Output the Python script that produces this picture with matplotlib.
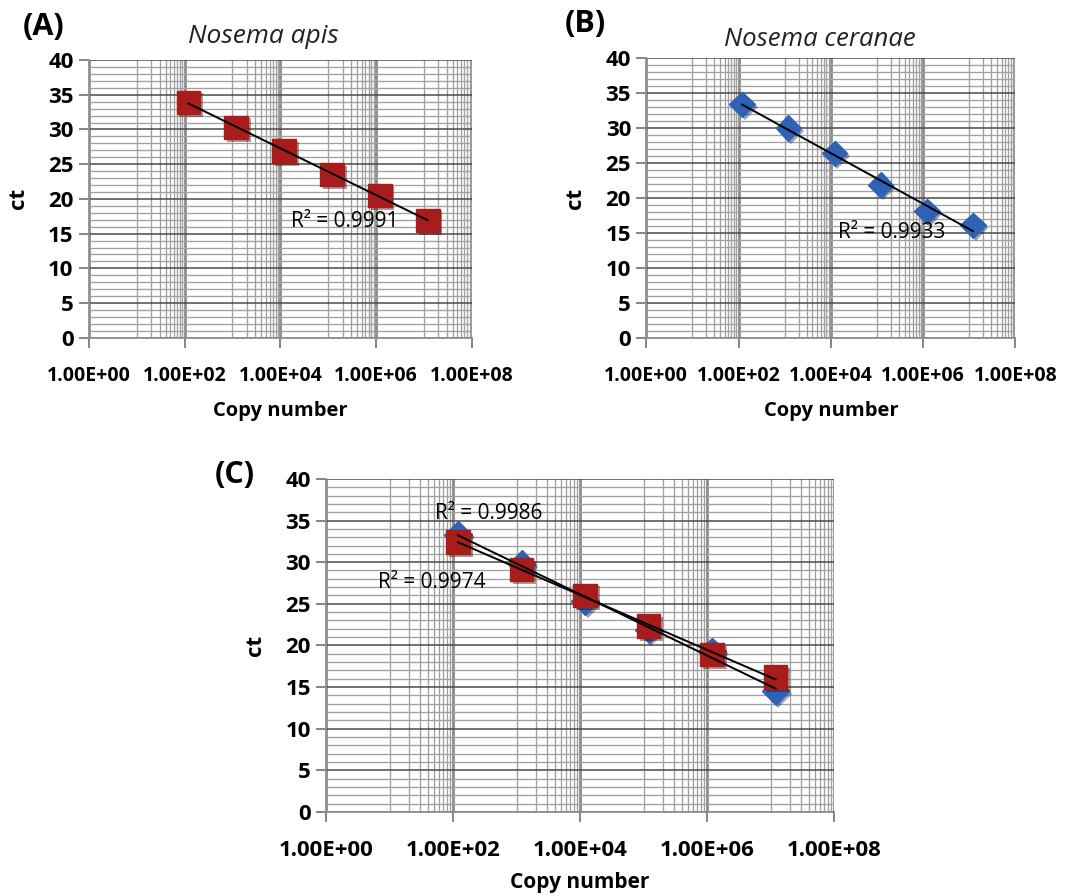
import numpy as np
import matplotlib
matplotlib.use("Agg")
import matplotlib.pyplot as plt
import matplotlib.patheffects as pe
from matplotlib.ticker import FixedLocator, FuncFormatter, NullFormatter

plt.rcParams['font.family'] = ['Open Sans', 'DejaVu Sans']
plt.rcParams['font.weight'] = 'bold'

# copy numbers (same dilution series for every panel)
copies = [1.2e2, 1.2e3, 1.2e4, 1.2e5, 1.2e6, 1.2e7]

# (A) Nosema apis
ct_apis = [33.9, 30.3, 26.9, 23.5, 20.5, 16.9]
# (B) Nosema ceranae
ct_ceranae = [33.4, 30.0, 26.4, 21.9, 18.1, 16.1]
# (C) mixed sample, both targets
ct_mix_ceranae = [33.3, 29.8, 25.3, 21.9, 19.3, 14.5]
ct_mix_apis = [32.4, 29.1, 26.0, 22.3, 18.9, 16.2]

RED = '#A81C1C'
BLUE = '#2E62B4'

shadow = [pe.SimplePatchShadow(offset=(2, -2), alpha=0.4), pe.Normal()]


def sci_label(v, pos):
    e = int(round(np.log10(v)))
    return '1.00E+%02d' % e


def style_axes(ax, xsize, ysize, labsize):
    ax.set_xscale('log')
    ax.set_xlim(1, 1e8)
    ax.set_ylim(0, 40)
    ax.xaxis.set_major_locator(FixedLocator([1e0, 1e2, 1e4, 1e6, 1e8]))
    ax.xaxis.set_major_formatter(FuncFormatter(sci_label))
    minor_x = [10 ** (2 * m + 1) * n for m in range(4) for n in range(1, 10)]
    ax.xaxis.set_minor_locator(FixedLocator(minor_x))
    ax.xaxis.set_minor_formatter(NullFormatter())
    ax.yaxis.set_major_locator(FixedLocator(range(0, 41, 5)))
    ax.yaxis.set_minor_locator(FixedLocator(range(0, 41, 1)))
    ax.yaxis.set_minor_formatter(NullFormatter())
    ax.grid(which='minor', color='#a0a0a0', linewidth=0.95)
    ax.grid(which='major', axis='y', color='#4a4a4a', linewidth=1.1)
    ax.grid(which='major', axis='x', color='#8c8c8c', linewidth=2.0)
    ax.set_axisbelow(True)
    ax.tick_params(which='minor', length=0)
    ax.tick_params(axis='x', which='major', length=7, width=1.2, color='#707070',
                   pad=13, labelsize=xsize)
    ax.tick_params(axis='y', which='major', length=7, width=1.2, color='#707070',
                   pad=4, labelsize=ysize)
    for side in ['top', 'right']:
        ax.spines[side].set_visible(False)
    for side in ['left', 'bottom']:
        ax.spines[side].set_color('#909090')
        ax.spines[side].set_linewidth(1.3)
    ax.set_xlabel('Copy number', fontsize=labsize, fontweight='bold', labelpad=11)
    ax.set_ylabel('ct', fontsize=16, fontweight='bold', labelpad=14)


def trend(ax, x, y):
    k, b = np.polyfit(np.log10(x), y, 1)
    xs = np.array([x[0], x[-1]])
    ax.plot(xs, k * np.log10(xs) + b, color='black', linewidth=1.4, zorder=4)


fig = plt.figure(figsize=(10.7, 8.96), dpi=100)

# panel A
axA = fig.add_axes([0.083, 0.623, 0.358, 0.310])
style_axes(axA, 14, 16, 14.5)
axA.plot(copies, ct_apis, 's', color=RED, markersize=17, zorder=3, path_effects=shadow)
trend(axA, copies, ct_apis)
axA.text(1.7e4, 16.7, 'R² = 0.9991', fontsize=15, fontweight='normal', va='center', zorder=5)
axA.set_title('Nosema apis', fontsize=19, style='italic', fontweight='normal',
              color='#222222', pad=12, x=0.455)

# panel B
axB = fig.add_axes([0.604, 0.623, 0.345, 0.312])
style_axes(axB, 14, 16, 14.5)
axB.plot(copies, ct_ceranae, 'D', color=BLUE, markersize=13, zorder=3, path_effects=shadow)
trend(axB, copies, ct_ceranae)
axB.text(1.4e4, 15.0, 'R² = 0.9933', fontsize=15, fontweight='normal', va='center', zorder=5)
axB.set_title('Nosema ceranae', fontsize=18.5, style='italic', fontweight='normal',
              color='#222222', pad=9, x=0.47)

# panel C
axC = fig.add_axes([0.3047, 0.0938, 0.4748, 0.3717])
style_axes(axC, 16, 16, 15)
axC.plot(copies, ct_mix_ceranae, 'D', color=BLUE, markersize=14, zorder=3, path_effects=shadow)
axC.plot(copies, ct_mix_apis, 's', color=RED, markersize=17, zorder=3, path_effects=shadow)
trend(axC, copies, ct_mix_ceranae)
trend(axC, copies, ct_mix_apis)
axC.text(52, 35.9, 'R² = 0.9986', fontsize=15, fontweight='normal', va='center', zorder=5)
axC.text(6.6, 27.5, 'R² = 0.9974', fontsize=15, fontweight='normal', va='center', zorder=5)
axC.xaxis.labelpad = 8

fig.text(0.021, 0.970, '(A)', fontsize=22, fontweight='bold', va='center')
fig.text(0.528, 0.973, '(B)', fontsize=22, fontweight='bold', va='center')
fig.text(0.201, 0.470, '(C)', fontsize=22, fontweight='bold', va='center')

fig.savefig('out.png', dpi=100)
